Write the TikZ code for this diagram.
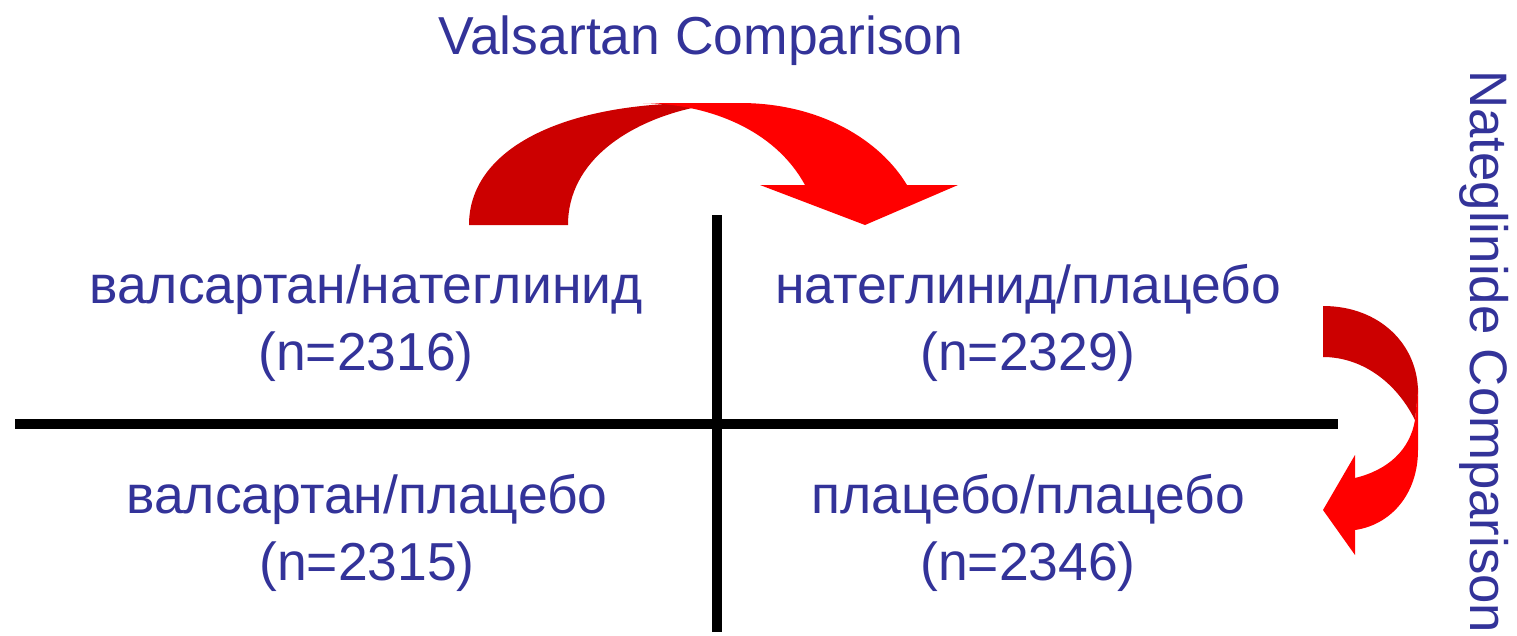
\documentclass[tikz,border=0pt]{standalone}
\usepackage{fontspec}
\setmainfont{Liberation Sans}
\usepackage{xcolor}
\usetikzlibrary{positioning,calc}

\definecolor{txtblue}{HTML}{333399}
\definecolor{darkred}{HTML}{CC0000}
\definecolor{brightred}{HTML}{FF0000}

\tikzset{
  label/.style={text=txtblue, align=center, font=\fontsize{15.2}{19}\selectfont, inner sep=0pt, anchor=base},
  axis/.style={line width=2.9pt, black},
}

\begin{document}
\begin{tikzpicture}[x=0.01cm, y=-0.01cm]
  \useasboundingbox (0,0) rectangle (1517,636);

  % Cross (Centre)
  \coordinate (hl) at (15,424);
  \coordinate (hr) at (1338,424);
  \coordinate (vt) at (717,215);
  \coordinate (vb) at (717,632);
  \draw[axis] (hl) -- (hr);
  \draw[axis] (vt) -- (vb);

  % Group labels (anchored on the last line)
  \node[label] (valnat) at (366,370) {валсартан/натеглинид\\(n=2316)};
  \node[label] (natpla) at (1028,370) {натеглинид/плацебо\\(n=2329)};
  \node[label] (valpla) at (367,580) {валсартан/плацебо\\(n=2315)};
  \node[label] (plapla) at (1028,580) {плацебо/плацебо\\(n=2346)};

  % Comparison titles
  \node[label] (valcmp) at (701,54) {Valsartan Comparison};
  \node[label, rotate=-90, font=\fontsize{15}{19}\selectfont] (natcmp) at (1470,352) {Nateglinide Comparison};

  % Curved arrow (Top)
  \fill[darkred] (469,225) .. controls (469,150) and (560,103) .. (700,103)
    -- (692,108) .. controls (630,122) and (568,160) .. (568,225) -- cycle;
  \fill[brightred] (643,103) -- (740,103) .. controls (820,103) and (880,140) .. (907,185)
    -- (958,185) -- (865,225) -- (760,185) -- (805,185)
    .. controls (775,130) and (710,104) .. (643,103) -- cycle;

  % Curved arrow (Right)
  \fill[darkred] (1323,306) .. controls (1380,306) and (1418,345) .. (1418,392)
    -- (1415,420) .. controls (1395,380) and (1360,357) .. (1323,357) -- cycle;
  \fill[brightred] (1418,388) -- (1418,450) .. controls (1418,495) and (1390,525) .. (1355,530)
    -- (1355,555) -- (1323,510) -- (1355,455) -- (1355,478)
    .. controls (1388,470) and (1410,450) .. (1415,420) -- cycle;
\end{tikzpicture}
\end{document}
